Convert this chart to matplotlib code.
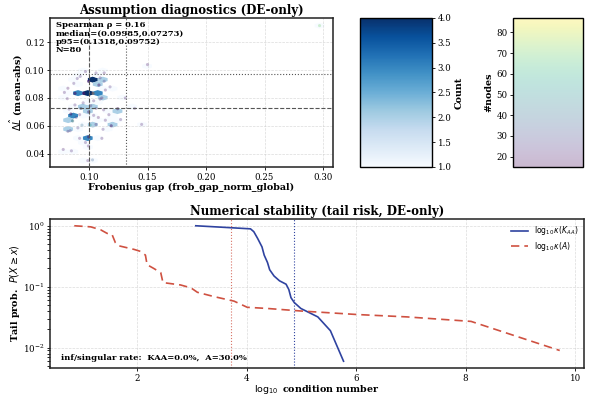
"""
Assumption diagnostics + numerical stability tail plot (DE-only).
Writes out.png
"""

import matplotlib
matplotlib.use("Agg")
import matplotlib.pyplot as plt
import numpy as np

# ---- top panel: frobenius gap vs delta L, one row per run ----
# repeated runs share identical values (these are the dark hex cells)
FROB_GAP = [
    0.0998, 0.0998, 0.0998, 0.0998,          # y~0.092
    0.0955, 0.0955, 0.0955, 0.0955,          # y~0.083
    0.0880, 0.0880, 0.0880,
    0.1035, 0.1035, 0.1035,
    0.0998, 0.0998, 0.0998,                  # y~0.052
    0.1245, 0.1245,
    0.0998, 0.0998,
    0.0845, 0.0845,
    0.0860, 0.0860,
    0.1085, 0.1085,
    0.1190, 0.1190,
    0.0930, 0.0930,
    0.297, 0.150, 0.097, 0.106, 0.113, 0.090, 0.113, 0.082, 0.079, 0.114,
    0.118, 0.111, 0.131, 0.106, 0.139, 0.083, 0.092, 0.089, 0.108, 0.114,
    0.127, 0.145, 0.101, 0.106, 0.112, 0.082, 0.084, 0.092, 0.111, 0.097,
    0.078, 0.085, 0.099, 0.103, 0.104, 0.1095, 0.088, 0.095, 0.1015, 0.0815,
    0.0925, 0.1095, 0.094, 0.104, 0.117, 0.0905, 0.1125, 0.0995, 0.087,
]
DELTA_L = [
    0.0920, 0.0920, 0.0920, 0.0920,
    0.0833, 0.0833, 0.0833, 0.0833,
    0.0833, 0.0833, 0.0833,
    0.0833, 0.0833, 0.0833,
    0.0520, 0.0520, 0.0520,
    0.0723, 0.0723,
    0.0700, 0.0700,
    0.0685, 0.0685,
    0.0635, 0.0635,
    0.0893, 0.0893,
    0.0600, 0.0600,
    0.0725, 0.0725,
    0.132, 0.104, 0.099, 0.098, 0.098, 0.094, 0.092, 0.087, 0.084, 0.0857,
    0.088, 0.080, 0.080, 0.0725, 0.0725, 0.072, 0.068, 0.066, 0.066, 0.064,
    0.0645, 0.061, 0.0605, 0.061, 0.0575, 0.056, 0.0565, 0.051, 0.051, 0.048,
    0.043, 0.042, 0.035, 0.0355, 0.078, 0.0792, 0.075, 0.0765, 0.0745, 0.0795,
    0.0955, 0.0945, 0.0605, 0.0675, 0.068, 0.0585, 0.0715, 0.0455, 0.0905,
]
N_NODES = [
    18, 22, 20, 25, 19, 24, 17, 21, 20, 16,
    23, 19, 87, 22, 18, 20, 26, 17, 21, 19,
    24, 20, 18, 22, 60, 19, 21, 23, 17, 20,
    45, 70, 18, 20, 22, 19, 21, 24, 16, 20,
    18, 23, 15, 21, 19, 22, 20, 18, 24, 17,
    19, 21, 20, 55, 18, 22, 19, 23, 17, 20,
    21, 18, 22, 19, 35, 20, 18, 21, 23, 19,
    20, 22, 18, 40, 21, 19, 24, 20, 18, 22,
]
MEDIAN = (0.09985, 0.07273)
P95 = (0.1318, 0.09752)
SPEARMAN = 0.16

# ---- bottom panel: tail probability of log10 condition numbers ----
KAA_LOGK = [3.07, 3.70, 4.07, 4.13, 4.20, 4.28, 4.32, 4.38, 4.42, 4.50,
            4.60, 4.72, 4.77, 4.81, 4.87, 4.99, 5.30, 5.53, 5.77]
KAA_TAIL = [1.0, 0.93, 0.89, 0.80, 0.62, 0.45, 0.33, 0.25, 0.19, 0.15,
            0.125, 0.11, 0.09, 0.066, 0.055, 0.044, 0.032, 0.019, 0.006]
A_LOGK = [0.85, 1.15, 1.33, 1.45, 1.54, 1.60, 1.66, 1.94, 2.06, 2.15,
          2.18, 2.30, 2.43, 2.47, 2.79, 2.98, 3.10, 3.40, 3.77, 4.01,
          4.38, 4.99, 6.02, 6.93, 8.10, 9.72]
A_TAIL = [1.0, 0.96, 0.86, 0.75, 0.72, 0.53, 0.47, 0.41, 0.38, 0.33,
          0.23, 0.20, 0.17, 0.117, 0.107, 0.096, 0.081, 0.069, 0.058, 0.046,
          0.044, 0.040, 0.035, 0.032, 0.027, 0.009]
KAA_P95 = 4.87
A_P95 = 3.71
INF_RATE = {"KAA": 0.0, "A": 30.0}

BLUE = "#2f43a0"
RED = "#cf5141"

plt.rcParams["font.family"] = "DejaVu Serif"
plt.rcParams["mathtext.fontset"] = "dejavusans"


def style_axes(ax):
    ax.grid(True, linestyle="--", linewidth=0.5, color="#cccccc", alpha=0.7)
    ax.tick_params(labelsize=6.2, length=2.5, width=0.6, pad=1.5)
    for sp in ax.spines.values():
        sp.set_color("#222222")
        sp.set_linewidth(1.1)


def main():
    fig = plt.figure(figsize=(5.89, 3.96), dpi=100)

    ax1 = fig.add_axes([0.0849, 0.5783, 0.4805, 0.3763])
    cax1 = fig.add_axes([0.6112, 0.5783, 0.1222, 0.3763])
    cax2 = fig.add_axes([0.8710, 0.5783, 0.1188, 0.3763])
    ax2 = fig.add_axes([0.0849, 0.0707, 0.9066, 0.3763])

    # top: hexbin density + scatter coloured by graph size
    x = np.array(FROB_GAP)
    y = np.array(DELTA_L)
    hb = ax1.hexbin(x, y, gridsize=26, cmap="Blues", mincnt=1,
                    vmin=1, vmax=4, linewidths=0, zorder=1)
    sc = ax1.scatter(x, y, c=N_NODES, cmap="viridis", s=5, alpha=0.28,
                     linewidths=0, vmin=15, vmax=87, zorder=2)
    ax1.axvline(MEDIAN[0], color="#555555", linestyle="--", linewidth=0.8, zorder=3)
    ax1.axhline(MEDIAN[1], color="#555555", linestyle="--", linewidth=0.8, zorder=3)
    ax1.axvline(P95[0], color="#555555", linestyle=":", linewidth=0.8, zorder=3)
    ax1.axhline(P95[1], color="#555555", linestyle=":", linewidth=0.8, zorder=3)
    ax1.set_xlim(0.0667, 0.3085)
    ax1.set_ylim(0.0304, 0.1375)
    style_axes(ax1)
    ax1.set_xlabel("Frobenius gap (frob_gap_norm_global)", fontsize=6.9,
                   fontweight="bold", labelpad=1)
    ax1.set_ylabel(r"$\Delta\hat{L}$ (mean-abs)", fontsize=6.9,
                   fontweight="bold", labelpad=0)
    ax1.set_title("Assumption diagnostics (DE-only)", fontsize=8.5,
                  fontweight="bold", pad=3)
    stats = (f"Spearman ρ = {SPEARMAN:.2f}\n"
             f"median=({MEDIAN[0]},{MEDIAN[1]})\n"
             f"p95=({P95[0]},{P95[1]})\n"
             f"N={len(FROB_GAP)}")
    ax1.text(0.02, 0.98, stats, transform=ax1.transAxes, va="top", ha="left",
             fontsize=6, fontweight="bold", linespacing=1.05, zorder=5)

    cb1 = fig.colorbar(hb, cax=cax1)
    cb1.set_label("Count", fontsize=6.9, fontweight="bold", labelpad=2)
    cb1.ax.tick_params(labelsize=6.2, length=2.5, width=0.6, pad=1.5)
    cb1.outline.set_linewidth(1.0)

    cb2 = fig.colorbar(sc, cax=cax2)
    cax2.yaxis.set_ticks_position("left")
    cax2.yaxis.set_label_position("left")
    cb2.set_label("#nodes", fontsize=6.9, fontweight="bold", labelpad=2)
    cb2.ax.tick_params(labelsize=6.2, length=2.5, width=0.6, pad=1.5)
    cb2.outline.set_linewidth(1.0)

    # bottom: tail probabilities
    ax2.plot(KAA_LOGK, KAA_TAIL, color=BLUE, linewidth=1.2,
             label=r"$\log_{10}\kappa(K_{AA})$")
    ax2.plot(A_LOGK, A_TAIL, color=RED, linewidth=1.2, linestyle=(0, (5, 3)),
             label=r"$\log_{10}\kappa(A)$")
    ax2.axvline(KAA_P95, color=BLUE, linestyle=":", linewidth=0.8)
    ax2.axvline(A_P95, color=RED, linestyle=":", linewidth=0.8, alpha=0.8)
    ax2.set_yscale("log")
    style_axes(ax2)
    ax2.set_xlabel(r"$\log_{10}$ condition number", fontsize=6.8,
                   fontweight="bold", labelpad=0)
    ax2.set_ylabel(r"Tail prob.  $P(X \geq x)$", fontsize=6.9,
                   fontweight="bold", labelpad=1)
    ax2.set_title("Numerical stability (tail risk, DE-only)", fontsize=8.5,
                  fontweight="bold", pad=3)
    ax2.legend(loc="upper right", fontsize=5.5, frameon=False,
               handlelength=2.2, labelspacing=0.35, borderaxespad=0.3)
    ax2.text(0.02, 0.04,
             f"inf/singular rate:  KAA={INF_RATE['KAA']:.1f}%,  A={INF_RATE['A']:.1f}%",
             transform=ax2.transAxes, fontsize=6, fontweight="bold",
             va="bottom", ha="left")

    fig.savefig("out.png", dpi=100)
    plt.close(fig)


if __name__ == "__main__":
    main()
